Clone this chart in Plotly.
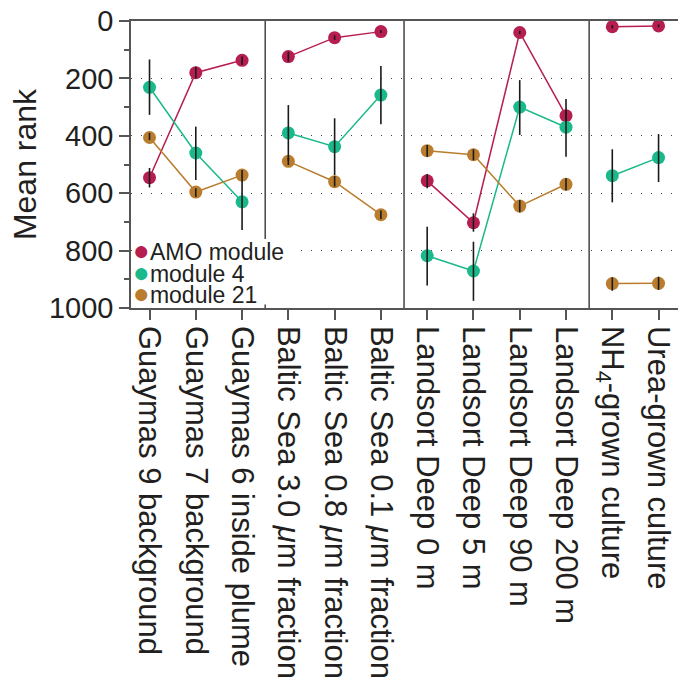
import plotly.graph_objects as go

categories = [
    "Guaymas 9 background", "Guaymas 7 background", "Guaymas 6 inside plume",
    "Baltic Sea 3.0 <i>μ</i>m fraction", "Baltic Sea 0.8 <i>μ</i>m fraction",
    "Baltic Sea 0.1 <i>μ</i>m fraction",
    "Landsort Deep 0 m", "Landsort Deep 5 m", "Landsort Deep 90 m", "Landsort Deep 200 m",
    "NH<sub>4</sub>-grown culture", "Urea-grown culture",
]
group_sizes = [3, 3, 4, 2]
series_names = ["AMO module", "module 4", "module 21"]
colors = ["#B71E50", "#1AB98C", "#B97D2D"]

amo = [546, 180, 137, 124, 58, 37, 557, 703, 40, 330, 20, 17]
amo_lo = [512, 159, 124, 107, 50, 32, 533, 670, 34, 312, 14, 12]
amo_hi = [580, 200, 153, 142, 66, 42, 583, 734, 46, 350, 26, 22]

mod4 = [231, 460, 630, 390, 438, 258, 818, 871, 300, 370, 539, 476]
mod4_lo = [134, 368, 554, 293, 339, 157, 717, 769, 206, 272, 447, 394]
mod4_hi = [327, 554, 728, 487, 537, 360, 922, 975, 397, 473, 632, 561]

mod21 = [406, 596, 537, 489, 560, 675, 452, 466, 645, 569, 915, 914]
mod21_lo = [390, 583, 519, 476, 540, 660, 432, 447, 624, 548, 893, 891]
mod21_hi = [415, 613, 555, 502, 577, 690, 473, 485, 667, 591, 940, 937]

series = [(amo, amo_lo, amo_hi), (mod4, mod4_lo, mod4_hi), (mod21, mod21_lo, mod21_hi)]

ytick_vals = [0, 200, 400, 600, 800, 1000]
ytick_text = ["0", "200", "400", "600", "800", "1000"]

FONT = "Liberation Sans, Arial, Helvetica, sans-serif"
TXT = "#231F20"
AX = "#555555"

xs = list(range(len(categories)))

# group boundaries
bounds = []
s = 0
for g in group_sizes:
    bounds.append((s, s + g))
    s += g

fig = go.Figure()

def broken(vals):
    bx, by = [], []
    for a, b in bounds:
        bx += xs[a:b] + [None]
        by += vals[a:b] + [None]
    return bx, by

for (vals, lo, hi), name, col in zip(series, series_names, colors):
    bx, by = broken(vals)
    fig.add_trace(go.Scatter(
        x=bx, y=by, mode="lines+markers", name=name,
        line=dict(color=col, width=1.5),
        marker=dict(color=col, size=13),
        showlegend=False,
    ))

for (vals, lo, hi), col in zip(series, colors):
    fig.add_trace(go.Scatter(
        x=xs, y=vals, mode="markers",
        marker=dict(size=1, opacity=0),
        error_y=dict(type="data", symmetric=False,
                     array=[h - v for h, v in zip(hi, vals)],
                     arrayminus=[v - l for v, l in zip(vals, lo)],
                     width=0, thickness=1.6, color="#1a1a1a"),
        showlegend=False, hoverinfo="skip",
    ))

shapes = []
for a, b in bounds[:-1]:
    shapes.append(dict(type="line", xref="x", yref="paper",
                       x0=b - 0.5, x1=b - 0.5, y0=0, y1=1,
                       line=dict(color="#444444", width=1.5), layer="above"))
# legend background
shapes.append(dict(type="rect", xref="paper", yref="paper",
                   x0=0.004, x1=0.297, y0=0.012, y1=0.24,
                   fillcolor="white", line=dict(width=0), layer="above"))

annotations = []
leg_y = [0.1997, 0.123, 0.0488]
for name, col, yy in zip(series_names, colors, leg_y):
    annotations.append(dict(
        xref="paper", yref="paper", x=0.002, y=yy, xanchor="left", yanchor="middle",
        text=f"<span style='color:{col};font-size:28px'>●</span>{name}",
        showarrow=False, font=dict(family=FONT, size=23, color=TXT),
        borderpad=0, height=21,
    ))

fig.update_layout(
    width=678, height=694,
    margin=dict(l=131, r=0, t=21, b=386),
    paper_bgcolor="white", plot_bgcolor="white",
    font=dict(family=FONT, color=TXT),
    shapes=shapes, annotations=annotations,
    showlegend=False,
)

fig.update_xaxes(
    range=[-0.4, 11.42],
    tickvals=xs, ticktext=categories, tickangle=90,
    tickfont=dict(family=FONT, size=31, color=TXT),
    ticks="outside", ticklen=10, tickwidth=1.5, tickcolor=AX,
    showline=True, linecolor=AX, linewidth=1.5, mirror=True,
    showgrid=False, zeroline=False,
)
fig.update_yaxes(
    range=[1000, 0],
    tickvals=ytick_vals, ticktext=ytick_text,
    tickfont=dict(family=FONT, size=29, color=TXT),
    ticks="outside", ticklen=10, tickwidth=1.5, tickcolor=AX,
    minor=dict(dtick=100, ticks="outside", ticklen=5, tickwidth=1.5, tickcolor=AX, showgrid=False),
    showline=True, linecolor=AX, linewidth=1.5, mirror=False,
    showgrid=True, gridcolor="#444444", gridwidth=1.3, griddash="1px,9px",
    zeroline=False,
    title=dict(text="Mean rank", font=dict(family=FONT, size=32, color=TXT), standoff=3),
)

fig.write_html("out.html", config={"displayModeBar": False},
               post_script="document.body.style.margin='0';document.body.style.overflow='hidden';")
